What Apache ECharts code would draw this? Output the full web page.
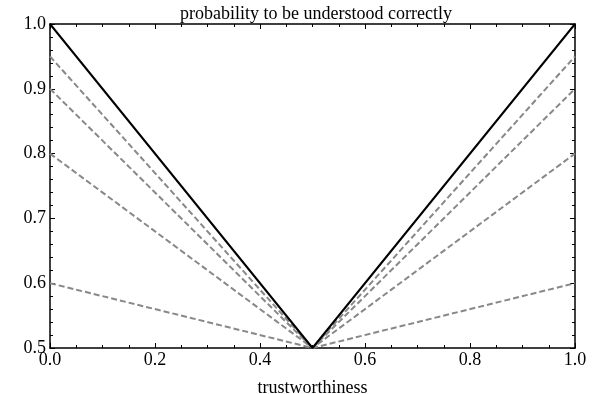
<!DOCTYPE html>
<html><head><meta charset="utf-8">
<script src="https://cdn.jsdelivr.net/npm/echarts@6/dist/echarts.min.js"></script>
<style>html,body{margin:0;padding:0;background:#fff}#c{width:600px;height:394px}</style>
</head><body><div id="c"></div>
<script>
const xs = [0, 0.5, 1];
const solidVals = [1.0, 0.5, 1.0];
const dashed1 = [0.95, 0.5, 0.95];
const dashed2 = [0.9, 0.5, 0.9];
const dashed3 = [0.8, 0.5, 0.8];
const dashed4 = [0.6, 0.5, 0.6];
const titleText = 'probability to be understood correctly';
const xName = 'trustworthiness';

const font = 'Liberation Serif, Times New Roman, serif';
const pair = v => xs.map((x, i) => [x, v[i]]);
const dashSeries = [dashed1, dashed2, dashed3, dashed4].map(v => ({
  type: 'line', data: pair(v), symbol: 'none', silent: true,
  lineStyle: { color: '#888', width: 2, type: [6, 3] }, z: 2
}));
function axis(kind, pos, showLabel) {
  const a = {
    type: 'value', position: pos,
    axisLine: { show: true, onZero: false, lineStyle: { color: '#000', width: 1.5 } },
    axisTick: { show: true, inside: true, length: 5, lineStyle: { color: '#000', width: 1 } },
    minorTick: { show: true, splitNumber: kind === 'x' ? 4 : 5, length: 3, lineStyle: { color: '#000', width: 1 } },
    splitLine: { show: false },
    axisLabel: { show: showLabel, fontFamily: font, fontSize: 18, color: '#000',
      margin: kind === 'x' ? 3 : 4, formatter: v => v.toFixed(1) }
  };
  if (kind === 'x') { a.min = 0; a.max = 1; a.interval = 0.2; }
  else { a.min = 0.5; a.max = 1; a.interval = 0.1; }
  return a;
}
const xBottom = axis('x', 'bottom', true);
xBottom.name = xName; xBottom.nameLocation = 'middle'; xBottom.nameGap = 31;
xBottom.nameTextStyle = { fontFamily: font, fontSize: 18, color: '#000' };
const chart = echarts.init(document.getElementById('c'));
chart.setOption({
  animation: false,
  title: { text: titleText, left: 311, top: 0, textAlign: 'center',
    textStyle: { fontFamily: font, fontSize: 18, fontWeight: 'normal', color: '#000' } },
  grid: { left: 50, right: 25, top: 24, bottom: 46, containLabel: false, outerBoundsMode: 'none' },
  xAxis: [xBottom, axis('x', 'top', false)],
  yAxis: [axis('y', 'left', true), axis('y', 'right', false)],
  series: dashSeries.concat([{
    type: 'line', data: pair(solidVals), symbol: 'none', silent: true,
    lineStyle: { color: '#000', width: 2 }, z: 3
  }])
});
</script></body></html>
